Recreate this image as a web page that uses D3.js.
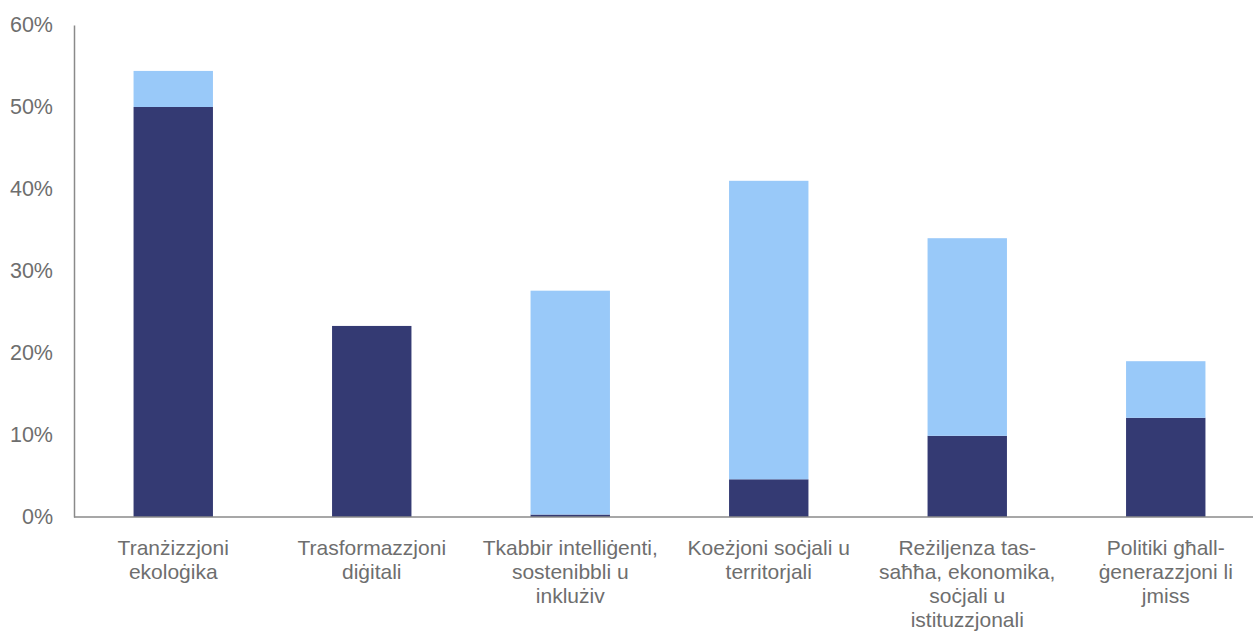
<!DOCTYPE html>
<html>
<head>
<meta charset="utf-8">
<script src="https://cdn.jsdelivr.net/npm/d3@7"></script>
<style>
  body { margin: 0; background: #fff; }
  svg text { font-family: "Liberation Sans", Arial, sans-serif; fill: #6e6e6e; }
</style>
</head>
<body>
<div id="chart"></div>
<script>
// categories, one list of lines per label
var categories = [
    ["Tranżizzjoni", "ekoloġika"],
    ["Trasformazzjoni", "diġitali"],
    ["Tkabbir intelliġenti,", "sostenibbli u", "inklużiv"],
    ["Koeżjoni soċjali u", "territorjali"],
    ["Reżiljenza tas-", "saħħa, ekonomika,", "soċjali u", "istituzzjonali"],
    ["Politiki għall-", "ġenerazzjoni li", "jmiss"]
];

// percentages (dark bottom part, light upper part)
var darkValues = [50.0, 23.3, 0.3, 4.6, 9.9, 12.1];
var lightValues = [4.4, 0, 27.3, 36.4, 24.1, 6.9];

var yTicks = [0, 10, 20, 30, 40, 50, 60];

var W = 1253, H = 631;
var margin = { top: 25, left: 74, bottom: 114 };
var h = H - margin.top - margin.bottom;

var svg = d3.select("#chart").append("svg")
    .attr("width", W)
    .attr("height", H);

var keys = categories.map(function(d, i) { return i; });

var xScale = d3.scaleBand().domain(keys).range([margin.left, 1265]).paddingInner(0.6).paddingOuter(0.3),
    yScale = d3.scaleLinear().domain([0, 60]).range([margin.top + h, margin.top]);

var rows = keys.map(function(i) {
    return { key: i, dark: darkValues[i], light: lightValues[i] };
});

var series = d3.stack().keys(["dark", "light"])(rows);
var colors = { dark: "#343a73", light: "#99c9f9" };

svg.append("g")
    .selectAll("g")
    .data(series)
    .enter()
    .append("g")
    .attr("fill", function(s) { return colors[s.key]; })
    .selectAll("rect")
    .data(function(s) { return s; })
    .enter()
    .append("rect")
    .attr("x", function(d) { return xScale(d.data.key); })
    .attr("width", xScale.bandwidth())
    .attr("y", function(d) { return yScale(d[1]); })
    .attr("height", function(d) { return yScale(d[0]) - yScale(d[1]); });

// y axis
var yAxis = d3.axisLeft(yScale)
    .tickValues(yTicks)
    .tickSize(0)
    .tickPadding(21)
    .tickFormat(function(d) { return d + "%"; });

var gy = svg.append("g")
    .attr("transform", "translate(" + margin.left + ",0)")
    .call(yAxis);
gy.select(".domain").attr("stroke", "#8a8a8a").attr("stroke-width", 1.5);
gy.selectAll("text").style("font-size", "21.5px").attr("fill", "#6e6e6e");

// x axis line
svg.append("line")
    .attr("x1", margin.left)
    .attr("x2", W)
    .attr("y1", yScale(0))
    .attr("y2", yScale(0))
    .attr("stroke", "#8a8a8a")
    .attr("stroke-width", 1.5);

// category labels
var labels = svg.append("g")
    .selectAll("text")
    .data(keys)
    .enter()
    .append("text")
    .attr("text-anchor", "middle")
    .attr("x", function(i) { return xScale(i) + xScale.bandwidth() / 2; })
    .attr("y", yScale(0) + 38)
    .style("font-size", "21px");

labels.selectAll("tspan")
    .data(function(i) { return categories[i]; })
    .enter()
    .append("tspan")
    .attr("x", function() { return d3.select(this.parentNode).attr("x"); })
    .attr("dy", function(d, j) { return j === 0 ? 0 : 24; })
    .text(function(d) { return d; });
</script>
</body>
</html>
